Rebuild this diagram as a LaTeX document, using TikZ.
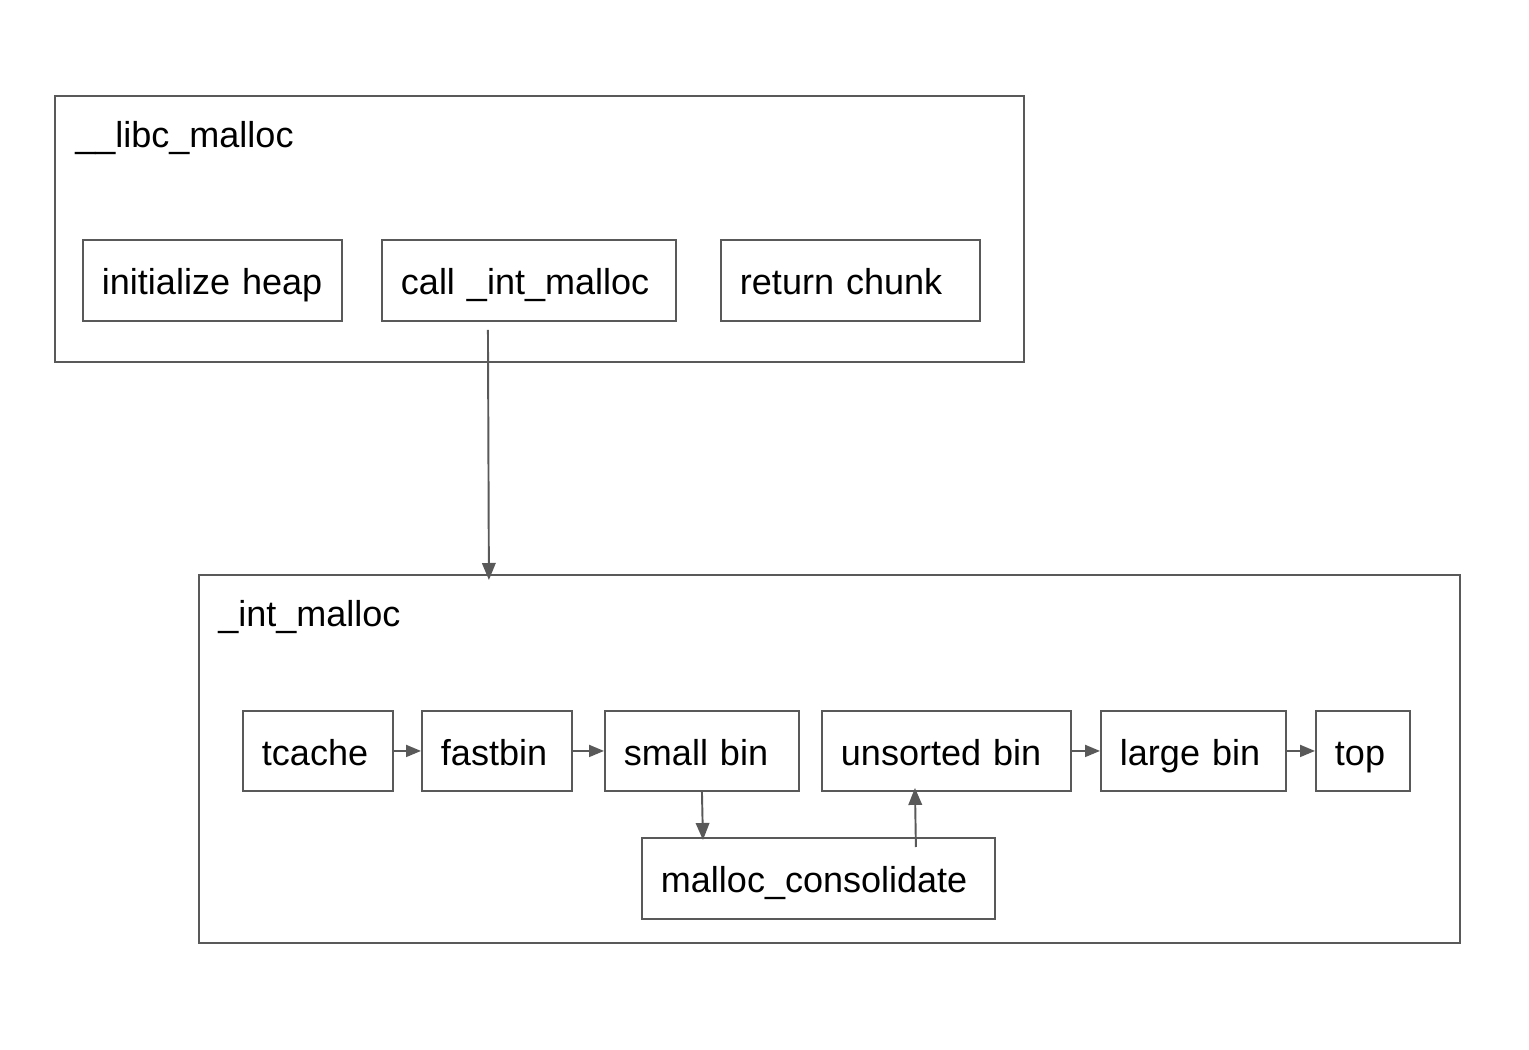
\documentclass[tikz,border=0pt]{standalone}
\usepackage{fontspec}
\setmainfont{Liberation Sans}
\usetikzlibrary{arrows.meta}
\definecolor{linegray}{HTML}{595959}

\begin{document}
\begin{tikzpicture}[x=0.02cm,y=-0.02cm,
 every node/.style={font=\fontsize{20.5}{24}\selectfont, text=black},
 frame/.style={draw=linegray, line width=1.1pt, minimum width=#1, anchor=north west, inner sep=0pt},
 blk/.style={draw=linegray, line width=1.1pt, anchor=north west, inner xsep=0.38cm, inner ysep=0pt, text width=#1, align=left, text height=0.72cm, text depth=0.14cm, minimum height=1.6cm},
 flow/.style={draw=linegray, line width=1.1pt, -{Triangle[length=0.3cm,width=0.24cm]}},
 bigflow/.style={draw=linegray, line width=1.1pt, -{Triangle[length=0.34cm,width=0.27cm]}},
]
    \useasboundingbox (0,0) rectangle (1529,1050);

    % outer function __libc_malloc
    \node[frame=19.38cm, minimum height=5.32cm] (libc) at (54,95) {};
    \node[anchor=base west, inner sep=0pt] (libclabel) at (75,148) {\_\_libc\_malloc};
    \node[blk=4.42cm, minimum height=1.62cm] (init) at (82,239) {initialize heap};
    \node[blk=5.12cm, minimum height=1.62cm] (call) at (381,239) {call \_int\_malloc};
    \node[blk=4.42cm, minimum height=1.62cm] (ret) at (720,239) {return chunk};

    % inner function _int_malloc
    \node[frame=25.22cm, minimum height=7.36cm] (intm) at (198,574) {};
    \node[anchor=base west, inner sep=0pt] (intmlabel) at (218,627) {\_int\_malloc};
    \node[blk=2.24cm] (tcache) at (242,710) {tcache};
    \node[blk=2.24cm] (fastbin) at (421,710) {fastbin};
    \node[blk=3.12cm] (small) at (604,710) {small bin};
    \node[blk=4.22cm] (unsorted) at (821,710) {unsorted bin};
    \node[blk=2.94cm] (large) at (1100,710) {large bin};
    \node[blk=1.12cm] (top) at (1315,710) {top};
    \node[blk=6.30cm, minimum height=1.62cm] (consol) at (641,837) {malloc\_consolidate};

    \draw[bigflow] ([xshift=-0.82cm,yshift=-0.16cm]call.south) -- ([xshift=-6.81cm,yshift=-0.12cm]intm.north);
    \draw[flow] (tcache) -- (fastbin);
    \draw[flow] (fastbin) -- (small);
    \draw[flow] (unsorted) -- (large);
    \draw[flow] (large) -- (top);
    \draw[bigflow] (small.south) -- ([xshift=-2.31cm,yshift=-0.06cm]consol.north);
    \draw[bigflow] ([xshift=1.95cm,yshift=-0.2cm]consol.north) -- ([xshift=-0.63cm,yshift=0.08cm]unsorted.south);
\end{tikzpicture}
\end{document}
